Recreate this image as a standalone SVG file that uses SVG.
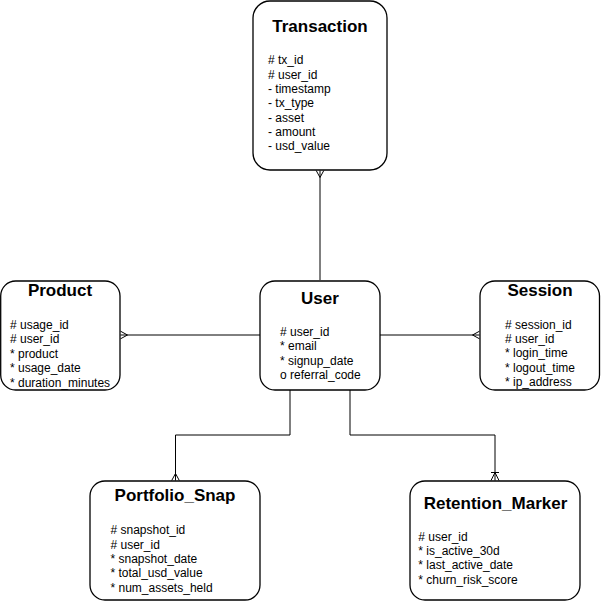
<svg xmlns="http://www.w3.org/2000/svg" width="601" height="611" viewBox="0 0 601 611">
<style>
.box{fill:#fff;stroke:#000;stroke-width:1.3}
.title{font-family:"Liberation Sans",Arial,sans-serif;font-weight:bold;font-size:17px;fill:#000;text-anchor:middle}
.attr{font-family:"Liberation Sans",Arial,sans-serif;font-size:12px;fill:#000}
.conn{fill:none;stroke:#000;stroke-width:1}
</style>
<defs>
<marker id="many" markerUnits="userSpaceOnUse" markerWidth="12" markerHeight="12" refX="10" refY="6" orient="auto" overflow="visible">
<path d="M3,6 L10,2.2 M3,6 L10,9.8" fill="none" stroke="#000" stroke-width="1"/>
</marker>
<marker id="onemany" markerUnits="userSpaceOnUse" markerWidth="12" markerHeight="12" refX="10" refY="6" orient="auto" overflow="visible">
<path d="M2,6 L10,2 M2,6 L10,10 M2,2 L2,10" fill="none" stroke="#000" stroke-width="1"/>
</marker>
</defs>
<rect width="601" height="611" fill="#fff"/>
<g id="connectors">
<path class="conn" d="M320,280 L320,170.5" marker-end="url(#many)"/>
<path class="conn" d="M260,335 L120.5,335" marker-end="url(#many)"/>
<path class="conn" d="M380,335 L479.5,335" marker-end="url(#many)"/>
<path class="conn" d="M290,390 L290,435 L175.5,435 L175.5,480.5" marker-end="url(#many)"/>
<path class="conn" d="M350,390 L350,435 L495,435 L495,480.5" marker-end="url(#onemany)"/>
</g>
<g id="Transaction">
<rect class="box" x="253" y="1" width="134" height="169" rx="17"/>
<text class="title" x="320" y="32">Transaction</text>
<text class="attr">
<tspan x="268" y="64.3"># tx_id</tspan>
<tspan x="268" y="78.6"># user_id</tspan>
<tspan x="268" y="93">- timestamp</tspan>
<tspan x="268" y="107.3">- tx_type</tspan>
<tspan x="268" y="121.6">- asset</tspan>
<tspan x="268" y="136">- amount</tspan>
<tspan x="268" y="150.3">- usd_value</tspan>
</text>
</g>
<g id="User">
<rect class="box" x="260" y="281" width="120" height="109" rx="15"/>
<text class="title" x="320" y="303.5">User</text>
<text class="attr">
<tspan x="280" y="336"># user_id</tspan>
<tspan x="280" y="350.4">* email</tspan>
<tspan x="280" y="364.8">* signup_date</tspan>
<tspan x="280" y="379.2">o referral_code</tspan>
</text>
</g>
<g id="Product">
<rect class="box" x="0.7" y="281" width="119.3" height="109" rx="15"/>
<text class="title" x="60" y="296">Product</text>
<text class="attr">
<tspan x="10" y="329"># usage_id</tspan>
<tspan x="10" y="343.4"># user_id</tspan>
<tspan x="10" y="357.8">* product</tspan>
<tspan x="10" y="372.2">* usage_date</tspan>
<tspan x="10" y="386.6">* duration_minutes</tspan>
</text>
</g>
<g id="Session">
<rect class="box" x="480" y="281" width="119.5" height="109" rx="15"/>
<text class="title" x="540" y="296">Session</text>
<text class="attr">
<tspan x="505" y="328.6"># session_id</tspan>
<tspan x="505" y="343"># user_id</tspan>
<tspan x="505" y="357.4">* login_time</tspan>
<tspan x="505" y="371.8">* logout_time</tspan>
<tspan x="505" y="386.2">* ip_address</tspan>
</text>
</g>
<g id="Portfolio_Snap">
<rect class="box" x="90" y="481" width="170" height="119" rx="15"/>
<text class="title" x="175" y="501">Portfolio_Snap</text>
<text class="attr">
<tspan x="110.5" y="534.3"># snapshot_id</tspan>
<tspan x="110.5" y="548.6"># user_id</tspan>
<tspan x="110.5" y="563">* snapshot_date</tspan>
<tspan x="110.5" y="577.3">* total_usd_value</tspan>
<tspan x="110.5" y="591.6">* num_assets_held</tspan>
</text>
</g>
<g id="Retention_Marker">
<rect class="box" x="410" y="481" width="170" height="119" rx="15"/>
<text class="title" x="495.5" y="508.5">Retention_Marker</text>
<text class="attr">
<tspan x="418.3" y="541"># user_id</tspan>
<tspan x="418.3" y="555.2">* is_active_30d</tspan>
<tspan x="418.3" y="569.4">* last_active_date</tspan>
<tspan x="418.3" y="583.6">* churn_risk_score</tspan>
</text>
</g>
</svg>
